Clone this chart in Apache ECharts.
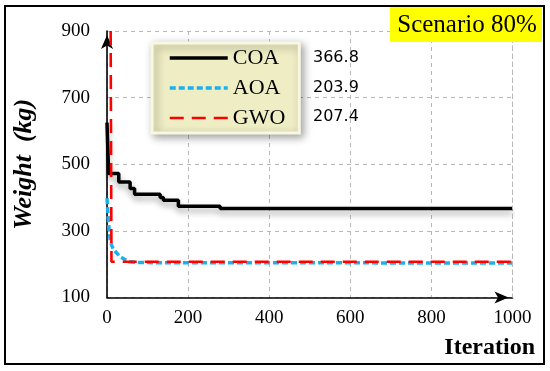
<!DOCTYPE html>
<html>
<head>
<meta charset="utf-8">
<script src="https://cdn.jsdelivr.net/npm/echarts@6/dist/echarts.min.js"></script>
<style>
html,body{margin:0;padding:0;background:#fff;}
#chart{width:550px;height:371px;}
</style>
</head>
<body>
<div id="chart"></div>
<script>
// ---- data ----
const seriesNames = ['COA', 'AOA', 'GWO'];
const finalValues = ['366.8', '203.9', '207.4'];
const coaData = [[0,625],[4,472],[29,447],[57,427],[68,410],[131,400],[139,392],[176,374],[279,367],[1000,366.8]];
const aoaData = [[0,398],[2,360],[5,305],[8,272],[12,255],[16,244],[25,232],[33,222],[45,213],[55,207],[80,205],[150,204],[1000,203.9]];
const gwoData = [[9,900],[11,207.4],[1000,207.4]];
const yTicks = [100, 300, 500, 700, 900];
const xTicks = [0, 200, 400, 600, 800, 1000];
const scenarioLabel = 'Scenario 80%';
const xTitle = 'Iteration';
const yTitle = 'Weight  (kg)';

const serif = '"Liberation Serif", "DejaVu Serif", serif';
const chart = echarts.init(document.getElementById('chart'));
const gridStyle = { color: '#b8b8b8', type: [4, 4], width: 1 };
const lineStyles = [
  { color: '#000', width: 3.5, type: 'solid' },
  { color: '#1ab2ec', width: 3.5, type: [6, 3] },
  { color: '#ff0000', width: 2.6, type: [14, 8] }
];

const option = {
  backgroundColor: '#ffffff',
  animation: false,
  grid: { left: 107, right: 37.5, top: 31, bottom: 73.5, containLabel: false },
  xAxis: {
    type: 'value',
    min: xTicks[0], max: xTicks[xTicks.length - 1], interval: 200,
    axisLine: { show: true, lineStyle: { color: '#000', width: 1.6 }, symbol: ['none', 'arrow'], symbolSize: [9, 14], symbolOffset: [0, -4] },
    axisTick: { show: false },
    axisLabel: { color: '#000', fontFamily: serif, fontSize: 19, margin: 11, formatter: v => String(v) },
    splitLine: { show: true, lineStyle: gridStyle }
  },
  yAxis: {
    type: 'value',
    min: yTicks[0], max: yTicks[yTicks.length - 1],
    name: yTitle, nameLocation: 'middle', nameGap: 70, nameRotate: 90,
    nameTextStyle: { color: '#000', fontFamily: serif, fontSize: 26, fontWeight: 'bold', fontStyle: 'italic' },
    axisLine: { show: true, lineStyle: { color: '#000', width: 1.6 }, symbol: ['none', 'arrow'], symbolSize: [9, 14], symbolOffset: [0, -4] },
    axisTick: { show: false, customValues: yTicks },
    axisLabel: { color: '#000', fontFamily: serif, fontSize: 19, margin: 17, customValues: yTicks },
    splitLine: { show: true, lineStyle: gridStyle }
  },
  legend: {
    orient: 'vertical',
    left: 152, top: 43,
    padding: [4, 14, 4, 16],
    itemGap: 8,
    itemWidth: 58, itemHeight: 14,
    backgroundColor: '#efedc4',
    borderColor: '#f8f7e2', borderWidth: 3,
    shadowBlur: 8, shadowColor: 'rgba(0,0,0,0.35)', shadowOffsetX: 3, shadowOffsetY: 3,
    textStyle: { color: '#000', fontFamily: serif, fontSize: 22, lineHeight: 22 },
    data: seriesNames.map((n, i) => ({
      name: n,
      itemStyle: { opacity: 0 },
      lineStyle: { color: lineStyles[i].color, width: lineStyles[i].width, type: lineStyles[i].type }
    }))
  },
  series: [
    {
      name: seriesNames[0], type: 'line', data: coaData, step: 'end', showSymbol: false, symbol: 'none',
      lineStyle: Object.assign({}, lineStyles[0], { shadowBlur: 6, shadowColor: 'rgba(0,0,0,0.35)', shadowOffsetY: 4 }),
      itemStyle: { color: '#000' }, z: 3
    },
    {
      name: seriesNames[1], type: 'line', data: aoaData, showSymbol: false, symbol: 'none',
      lineStyle: lineStyles[1],
      itemStyle: { color: '#1ab2ec' }, z: 4
    },
    {
      name: seriesNames[2], type: 'line', data: gwoData, showSymbol: false, symbol: 'none',
      lineStyle: lineStyles[2],
      itemStyle: { color: '#ff0000' }, z: 5,
      markLine: {
        silent: true, symbol: 'none', label: { show: false },
        lineStyle: gridStyle,
        data: [{ xAxis: xTicks[xTicks.length - 1] }]
      }
    }
  ],
  graphic: [
    { type: 'rect', shape: { x: 5, y: 6, width: 539, height: 358 }, style: { fill: 'none', stroke: '#000', lineWidth: 2 }, z: 10 },
    { type: 'rect', shape: { x: 390, y: 7, width: 152, height: 35 }, style: { fill: '#ffff00' }, z: 9 },
    { type: 'text', x: 467, y: 25, style: { text: scenarioLabel, fill: '#000', font: '25px ' + serif, align: 'center', verticalAlign: 'middle' }, z: 11 },
    { type: 'text', x: 535, y: 348, style: { text: xTitle, fill: '#000', font: 'bold 24px ' + serif, align: 'right', verticalAlign: 'middle' }, z: 11 },
    { type: 'text', x: 313, y: 58, style: { text: finalValues[0], fill: '#000', font: '16px "DejaVu Sans", sans-serif', verticalAlign: 'middle' }, z: 11 },
    { type: 'text', x: 313, y: 88, style: { text: finalValues[1], fill: '#000', font: '16px "DejaVu Sans", sans-serif', verticalAlign: 'middle' }, z: 11 },
    { type: 'text', x: 313, y: 117, style: { text: finalValues[2], fill: '#000', font: '16px "DejaVu Sans", sans-serif', verticalAlign: 'middle' }, z: 11 }
  ]
};
chart.setOption(option);
</script>
</body>
</html>
